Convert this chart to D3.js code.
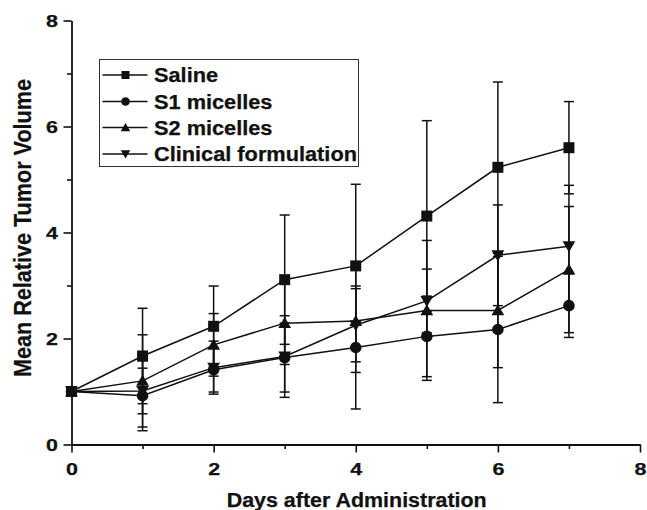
<!DOCTYPE html>
<html>
<head>
<meta charset="utf-8">
<script src="https://cdn.jsdelivr.net/npm/d3@7"></script>
<style>
  html, body { margin: 0; padding: 0; background: #fff; }
  svg { display: block; }
  text { font-family: "Liberation Sans", Arial, Helvetica, sans-serif; font-weight: bold; fill: #111; stroke: #111; stroke-width: 0.25px; }
</style>
</head>
<body>
<svg id="chart" width="647" height="510"></svg>
<script>
// ---- data ----
const days = [0, 1, 2, 3, 4, 5, 6, 7];
const seriesNames = ["Saline", "S1 micelles", "S2 micelles", "Clinical formulation"];
const seriesMarkers = ["square", "circle", "triangleUp", "triangleDown"];
const saline      = [1.00, 1.67, 2.23, 3.11, 3.37, 4.31, 5.23, 5.60];
const salineErr   = [0.00, 0.90, 0.76, 1.22, 1.54, 1.80, 1.61, 0.87];
const s1          = [1.00, 0.92, 1.41, 1.64, 1.83, 2.04, 2.17, 2.62];
const s1Err       = [0.00, 0.66, 0.42, 0.65, 1.16, 0.76, 1.38, 0.60];
const s2          = [1.00, 1.20, 1.88, 2.29, 2.33, 2.53, 2.53, 3.30];
const s2Err       = [0.00, 0.87, 0.59, 0.78, 0.97, 1.32, 1.08, 1.19];
const clinical    = [1.00, 1.01, 1.45, 1.66, 2.25, 2.71, 3.57, 3.74];
const clinicalErr = [0.00, 0.43, 0.50, 0.77, 0.69, 0.60, 0.95, 1.15];
const xTicks = [0, 1, 2, 3, 4, 5, 6, 7, 8];
const yTicks = [0, 1, 2, 3, 4, 5, 6, 7, 8];
const xTitle = "Days after Administration";
const yTitle = "Mean Relative Tumor Volume";

const seriesValues = [saline, s1, s2, clinical];
const seriesErrors = [salineErr, s1Err, s2Err, clinicalErr];

// ---- setup ----
const svg = d3.select("#chart");
const INK = "#111";
const x = d3.scaleLinear().domain([0, 8]).range([71.5, 640]);
const y = d3.scaleLinear().domain([0, 8]).range([444.5, 20.5]);

function stretch(sel, sx) {
  sel.each(function () {
    const len = this.getComputedTextLength();
    d3.select(this).attr("textLength", len * sx).attr("lengthAdjust", "spacingAndGlyphs");
  });
}

function markerPath(type, s) {
  switch (type) {
    case "square": return `M${-s},${-s}H${s}V${s}H${-s}Z`;
    case "circle": { const p = d3.path(); p.arc(0, 0, s, 0, 2 * Math.PI); p.closePath(); return p.toString(); }
    case "triangleUp": return `M0,${-s * 1.05}L${s * 1.1},${s * 0.85}L${-s * 1.1},${s * 0.85}Z`;
    case "triangleDown": return `M0,${s * 1.05}L${s * 1.1},${-s * 0.85}L${-s * 1.1},${-s * 0.85}Z`;
  }
}

// ---- axes ----
const xAxis = svg.append("g")
  .attr("transform", `translate(0,${y(0)})`)
  .call(d3.axisBottom(x).tickValues(xTicks).tickSize(8).tickSizeOuter(0).tickPadding(8)
    .tickFormat(d => d % 2 === 0 ? d3.format("d")(d) : ""));
const yAxis = svg.append("g")
  .attr("transform", `translate(${x(0)},0)`)
  .call(d3.axisLeft(y).tickValues(yTicks).tickSize(8).tickSizeOuter(0).tickPadding(5.5)
    .tickFormat(d => d % 2 === 0 ? d3.format("d")(d) : ""));

[xAxis, yAxis].forEach(g => {
  g.select(".domain").attr("stroke", INK).attr("stroke-width", 1.8);
  g.selectAll(".tick line").attr("stroke", INK).attr("stroke-width", 1.6);
  g.selectAll(".tick text").attr("font-size", 16.5).attr("font-family", null).attr("fill", INK);
});
xAxis.selectAll(".tick").filter(d => d % 2 !== 0).select("line").attr("y2", 4.5);
yAxis.selectAll(".tick").filter(d => d % 2 !== 0).select("line").attr("x2", -4.5);
xAxis.selectAll(".tick text").attr("dy", "0.86em");
yAxis.selectAll(".tick text").attr("dy", "0.36em");
stretch(xAxis.selectAll(".tick text"), 1.3);
stretch(yAxis.selectAll(".tick text"), 1.3);

// ---- axis titles ----
svg.append("text")
  .attr("x", 356.7)
  .attr("y", 506.5)
  .attr("text-anchor", "middle")
  .attr("font-size", 19.5)
  .attr("textLength", 260)
  .attr("lengthAdjust", "spacingAndGlyphs")
  .text(xTitle);

svg.append("text")
  .attr("transform", `translate(30.5,228) rotate(-90)`)
  .attr("text-anchor", "middle")
  .attr("font-size", 24)
  .attr("textLength", 298)
  .attr("lengthAdjust", "spacingAndGlyphs")
  .text(yTitle);

// ---- error bars ----
const capHalf = 5;
const errG = svg.append("g").attr("stroke", INK).attr("stroke-width", 1.5).attr("fill", "none");
seriesValues.forEach((vals, si) => {
  const errs = seriesErrors[si];
  days.forEach((d, i) => {
    const e = errs[i];
    if (!e) return;
    const cx = x(d), y1 = y(vals[i] + e), y2 = y(vals[i] - e);
    errG.append("line").attr("x1", cx).attr("x2", cx).attr("y1", y1).attr("y2", y2);
    errG.append("line").attr("x1", cx - capHalf).attr("x2", cx + capHalf).attr("y1", y1).attr("y2", y1);
    errG.append("line").attr("x1", cx - capHalf).attr("x2", cx + capHalf).attr("y1", y2).attr("y2", y2);
  });
});

// ---- lines ----
const line = d3.line().x((d, i) => x(days[i])).y(d => y(d));
seriesValues.forEach(vals => {
  svg.append("path").datum(vals)
    .attr("d", line)
    .attr("fill", "none").attr("stroke", INK).attr("stroke-width", 1.5);
});

// ---- markers ----
const markerSize = { square: 5.5, circle: 5.8, triangleUp: 5.8, triangleDown: 5.8 };
seriesValues.forEach((vals, si) => {
  const type = seriesMarkers[si];
  svg.append("g").selectAll("path").data(vals).join("path")
    .attr("transform", (d, i) => `translate(${x(days[i])},${y(d)})`)
    .attr("d", markerPath(type, markerSize[type]))
    .attr("fill", INK).attr("stroke", "none");
});

// ---- legend ----
const lg = svg.append("g");
lg.append("rect").attr("x", 99.5).attr("y", 59.5).attr("width", 259).attr("height", 107)
  .attr("fill", "#fff").attr("stroke", "#333").attr("stroke-width", 1);
const rowY = [75, 101.5, 127.5, 154];
const legendMarkerSize = { square: 4, circle: 4.3, triangleUp: 4.3, triangleDown: 4.3 };
seriesNames.forEach((name, i) => {
  const cy = rowY[i];
  lg.append("line").attr("x1", 102.5).attr("x2", 147.5).attr("y1", cy).attr("y2", cy)
    .attr("stroke", INK).attr("stroke-width", 1.5);
  const t = seriesMarkers[i];
  lg.append("path").attr("transform", `translate(125.5,${cy})`)
    .attr("d", markerPath(t, legendMarkerSize[t])).attr("fill", INK);
  lg.append("text").attr("class", "lgtext").attr("x", 154).attr("y", cy + 7)
    .attr("font-size", 19.5).text(name);
});
stretch(lg.selectAll(".lgtext"), 1.115);
</script>
</body>
</html>
